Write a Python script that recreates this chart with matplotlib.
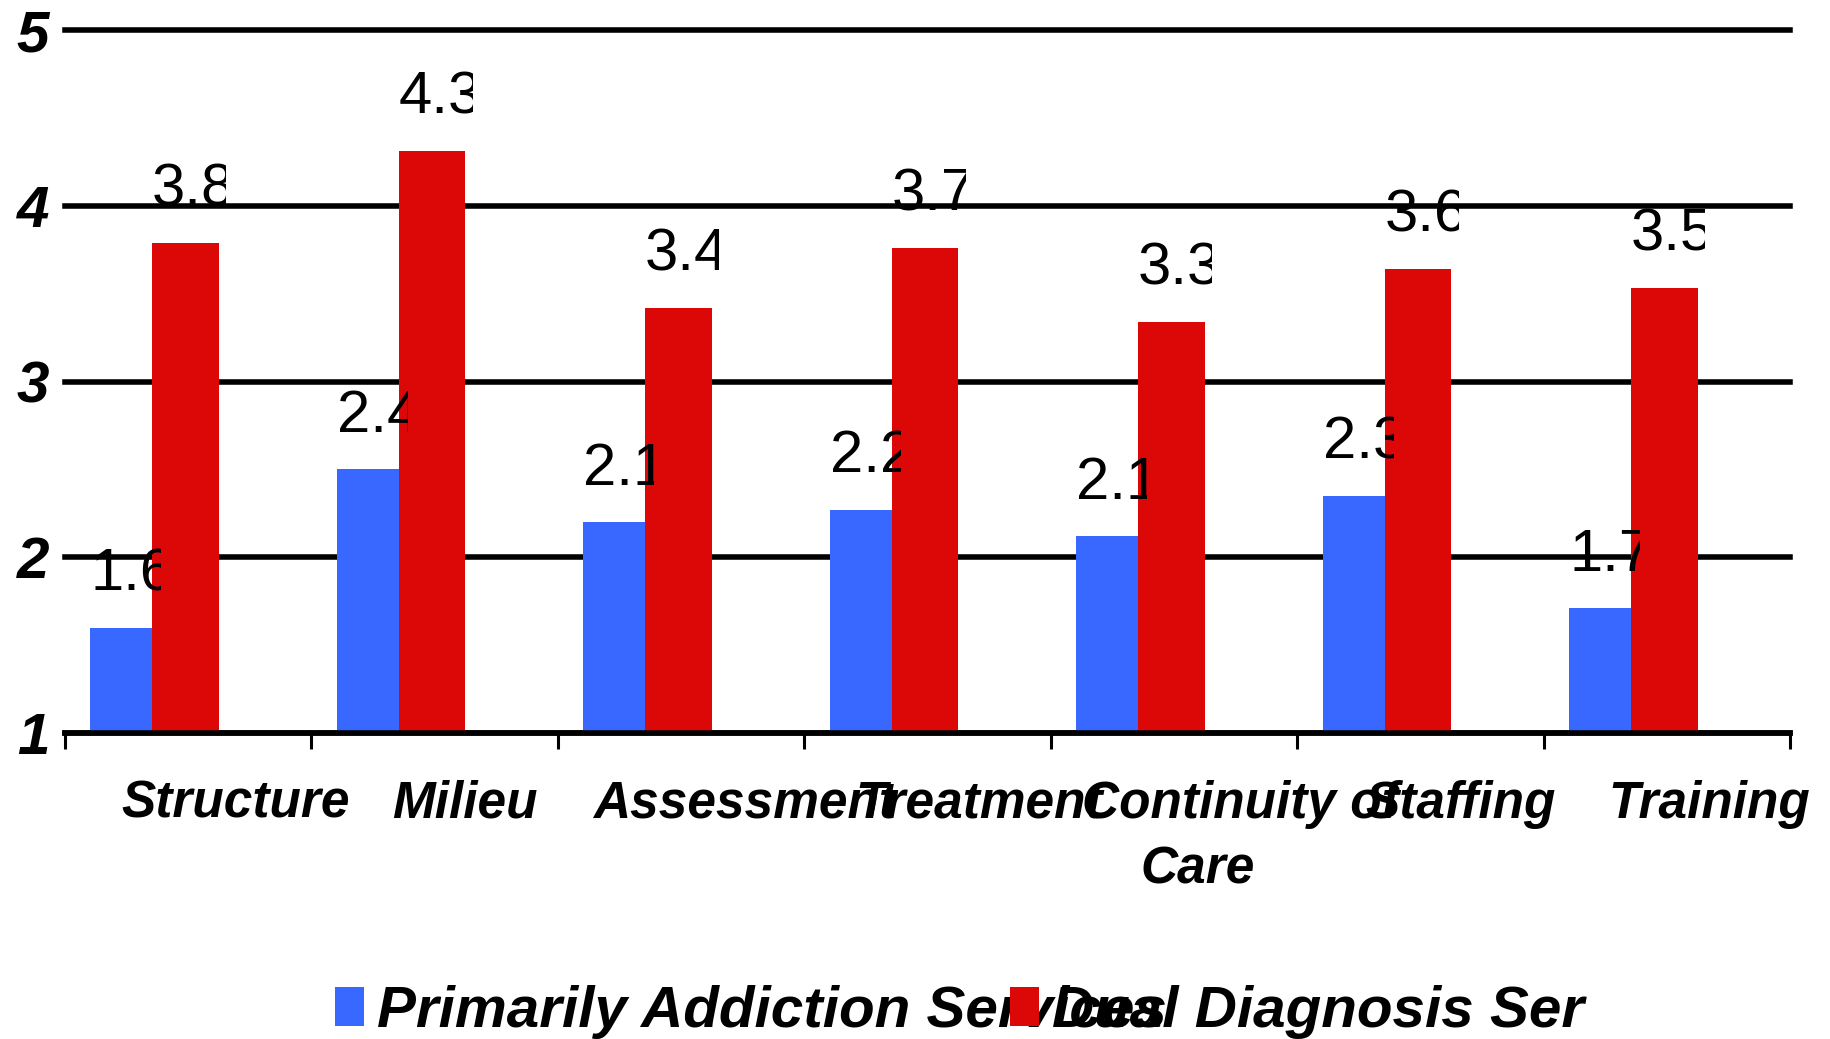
import matplotlib
matplotlib.use('Agg')
import matplotlib.pyplot as plt
from matplotlib.transforms import Bbox, TransformedBbox
import numpy as np

plt.rcParams['font.family'] = ['Liberation Sans', 'DejaVu Sans']

# данные с картинки
categories = ['Structure', 'Milieu', 'Assessment', 'Treatment',
              'Continuity of\nCare', 'Staffing', 'Training']
addiction = [1.60, 2.50, 2.20, 2.27, 2.12, 2.35, 1.71]
dual = [3.79, 4.31, 3.42, 3.76, 3.34, 3.64, 3.53]
addiction_labels = ['1.6', '2.4', '2.1', '2.2', '2.1', '2.3', '1.7']
dual_labels = ['3.8', '4.3', '3.4', '3.7', '3.3', '3.6', '3.5']
series_names = ['Primarily Addiction Services', 'Dual Diagnosis Ser']
yticks = [1, 2, 3, 4, 5]

BLUE = '#3868ff'
RED = '#dc0808'

W, H, DPI = 1831, 1039, 100
fig = plt.figure(figsize=(W / DPI, H / DPI), dpi=DPI)
ax = fig.add_axes([64.5 / W, 1 - 733 / H, (1790 - 64.5) / W, (733 - 30) / H])

x = np.arange(len(categories))
b1 = ax.bar(x + 0.105, addiction, width=0.25, align='edge', color=BLUE)
b2 = ax.bar(x + 0.355, dual, width=0.27, align='edge', color=RED)

ax.set_xlim(0, len(categories))
ax.set_ylim(1, 5)
ax.set_axisbelow(True)

# сетка и оси
ax.set_yticks(yticks)
ax.set_yticklabels([str(v) for v in yticks], fontsize=42,
                   fontweight='bold', fontstyle='italic')
ax.yaxis.grid(True, color='black', lw=4)
for gl in ax.get_ygridlines():
    gl.set_clip_on(False)
ax.tick_params(axis='y', length=0, pad=11)

ax.set_xticks(range(len(categories) + 1))
ax.tick_params(axis='x', length=11.5, width=2.2, direction='out',
               labelbottom=False, color='black')
for s in ['top', 'right', 'left']:
    ax.spines[s].set_visible(False)
ax.spines['bottom'].set_linewidth(4)
ax.spines['bottom'].set_color('black')


def value_labels(bars, labels, clip_px):
    # подписи обрезаны справа, как в оригинале
    for rect, lab in zip(bars, labels):
        x0 = rect.get_x()
        t = ax.annotate(lab, (x0, rect.get_height()), xytext=(0, 27),
                        textcoords='offset points', fontsize=43,
                        ha='left', va='baseline')
        cw = clip_px / 246.5
        t.set_clip_box(TransformedBbox(Bbox([[x0, 0], [x0 + cw, 6]]),
                                       ax.transData))
        t.set_clip_on(True)


value_labels(b1, addiction_labels, 71)
value_labels(b2, dual_labels, 74)

# подписи категорий (сдвинуты как в оригинале)
cat_texts = []
for i, name in enumerate(categories):
    for j, line in enumerate(name.split('\n')):
        t = ax.annotate(line, (i + 0.5, 0), xycoords=ax.get_xaxis_transform(),
                        xytext=(0, -61 - 47 * j), textcoords='offset points',
                        fontsize=37, fontweight='bold', fontstyle='italic',
                        ha='left', va='baseline', annotation_clip=False)
        cat_texts.append(t)

fig.canvas.draw()
r = fig.canvas.get_renderer()
for t in cat_texts:
    w = t.get_window_extent(r).width * 72 / DPI
    t.xyann = (-0.29 * w, t.xyann[1])

# легенда
fs = 42
fs_px = fs * DPI / 72
probe = fig.text(0, 0, series_names[0], fontsize=fs, fontweight='bold',
                 fontstyle='italic')
w1 = probe.get_window_extent(r).width
probe.remove()
hl, hh, pad = 0.5, 0.66, 0.22
colsp = (675 - (hl + pad) * fs_px - w1) / fs_px
ax.legend(handles=[b1, b2], labels=series_names, ncol=2, loc='lower left',
          bbox_to_anchor=(335 / W, 0), bbox_transform=fig.transFigure,
          frameon=False, borderpad=0, borderaxespad=0, handlelength=hl,
          handleheight=hh, handletextpad=pad, columnspacing=colsp,
          prop=dict(size=fs, weight='bold', style='italic'))

fig.savefig('out.png', dpi=DPI)
